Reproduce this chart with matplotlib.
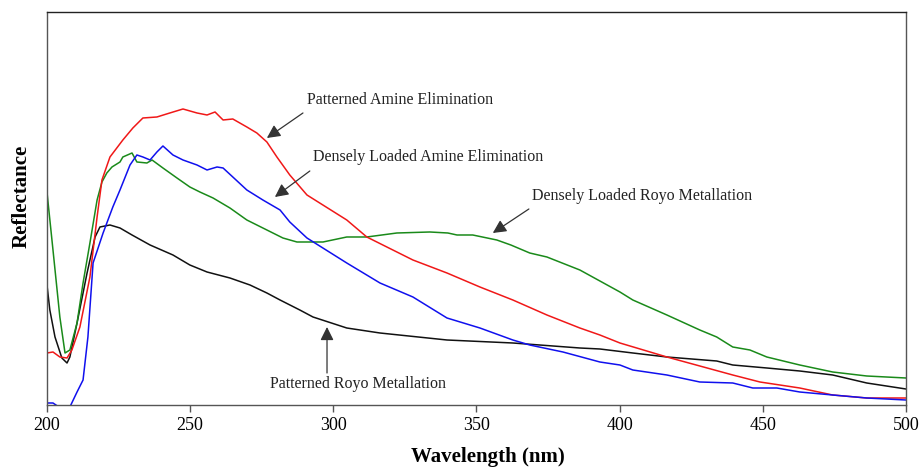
import matplotlib
matplotlib.use("Agg")
import matplotlib.pyplot as plt

plt.rcParams['font.family'] = ['Liberation Serif', 'DejaVu Serif']

# Reflectance spectra (arbitrary units)
red_x = [200, 202.1, 204.5, 207, 208.7, 211.5, 215, 217.5, 219.2, 222, 226.5, 230,
         233.5, 238.4, 242.9, 247.5, 252.4, 255.9, 258.7, 261.5, 264.9, 269.8,
         273.3, 276.8, 280.3, 284.8, 290.8, 304.7, 311.7, 327.8, 339.7, 351.2,
         362.7, 374.6, 386.1, 393.1, 400.1, 416.5, 439.5, 449, 462.9, 474.4,
         486.3, 500]
red_y = [52, 53, 48, 47, 55, 78, 128, 188, 225, 248, 265, 277,
         287, 288, 292, 296, 292, 290, 293, 285, 286, 278,
         272, 263, 248, 230, 210, 185, 168, 145, 132, 118,
         105, 90, 77, 70, 62, 48, 30, 23, 17, 10,
         7, 7]

blue_x = [200, 202.1, 205.2, 208, 210.5, 212.6, 214.3, 216.1, 219.6, 223, 225.5, 229,
          231.4, 233.5, 236, 238.4, 240.5, 244, 247.5, 252.4, 255.9, 259.4, 261.5,
          264.9, 269.8, 275.4, 281.4, 284.8, 290.8, 304.7, 316.3, 327.8, 339.7,
          351.2, 362.7, 368.6, 380.2, 393.1, 400.1, 404.6, 416.5, 428, 439.5,
          446.5, 454.9, 462.9, 474.4, 486.3, 500]
blue_y = [2, 2, -4, -2, 13, 25, 68, 142, 172, 198, 215, 240,
          250, 248, 245, 253, 259, 250, 245, 240, 235, 238, 237,
          228, 215, 205, 195, 183, 167, 142, 122, 108, 87,
          77, 65, 60, 53, 43, 40, 35, 30, 23, 22,
          17, 17, 13, 10, 7, 5]

green_x = [200, 202.1, 204.5, 206.3, 208, 210.5, 212.6, 215, 217.5, 219.2, 220.9,
           222.7, 225.5, 226.5, 229.7, 231.4, 234.9, 236.7, 240.5, 245.4, 249.9,
           253.4, 258, 263.9, 269.8, 276.8, 282.4, 287.3, 290.8, 296.4, 304.7,
           311.7, 322.2, 333.7, 340, 343.2, 348.7, 357.1, 362, 368.6, 374.6,
           386.1, 400.1, 404.6, 416.5, 428, 433.9, 439.5, 445.5, 451.4, 462.9,
           474.4, 486.3, 500]
green_y = [213, 155, 88, 52, 55, 82, 122, 162, 205, 223, 232,
           238, 243, 248, 252, 243, 242, 245, 237, 227, 218,
           213, 207, 197, 185, 175, 167, 163, 163, 163, 168,
           168, 172, 173, 172, 170, 170, 165, 160, 152, 148,
           135, 113, 105, 90, 75, 68, 58, 55, 48, 40,
           33, 29, 27]

black_x = [200, 201, 202.8, 205.2, 207, 208, 210.5, 214, 216.8, 218.5, 222, 225.5,
           229.7, 236, 244, 249.9, 255.9, 263.9, 270.9, 276.8, 281.4, 288.3,
           292.9, 304.7, 316.3, 339.7, 362.7, 386.1, 393.1, 404.6, 416.5, 433.9,
           439.5, 451.4, 462.9, 474.4, 486.3, 500]
black_y = [120, 95, 68, 47, 42, 48, 82, 132, 168, 178, 180, 177,
           170, 160, 150, 140, 133, 127, 120, 112, 105, 95,
           88, 77, 72, 65, 62, 57, 56, 52, 48, 44,
           40, 37, 34, 30, 22, 16]

x_ticks = [200, 250, 300, 350, 400, 450, 500]

fig = plt.figure(figsize=(9.21, 4.70), dpi=100)
ax = fig.add_axes([0.051, 0.1383, 0.9327, 0.8362])

ax.plot(black_x, black_y, color="#111111", lw=1.1)
ax.plot(green_x, green_y, color="#1a8a1a", lw=1.1)
ax.plot(red_x, red_y, color="#f01818", lw=1.1)
ax.plot(blue_x, blue_y, color="#1010ee", lw=1.1)

ax.set_xlim(200, 500)
ax.set_ylim(0, 393)
ax.set_xticks(x_ticks)
ax.set_yticks([])
ax.tick_params(axis="x", labelsize=13, length=5, width=1, color="#555555", direction="out")
for s in ax.spines.values():
    s.set_color("#555555")
    s.set_linewidth(1)
ax.spines["top"].set_color("#222222")

ax.set_xlabel("Wavelength (nm)", fontsize=15, fontweight="bold")
ax.xaxis.set_label_coords(0.513, -0.108)
ax.set_ylabel("Reflectance", fontsize=15, fontweight="bold")
ax.yaxis.set_label_coords(-0.018, 0.532)

# annotations: (label, text pos, arrow tail, arrow tip)
notes = [
    ("Patterned Amine Elimination", (290.8, 305), (289.4, 292), (276.8, 267)),
    ("Densely Loaded Amine Elimination", (292.9, 248), (291.8, 234), (279.6, 208)),
    ("Densely Loaded Royo Metallation", (369.3, 209), (368.3, 196), (355.7, 172)),
    ("Patterned Royo Metallation", (277.9, 21), (297.8, 32), (297.8, 78)),
]
for label, tpos, tail, tip in notes:
    ax.text(tpos[0], tpos[1], label, fontsize=11.5, ha="left", va="center", color="#222222")
    ax.annotate("", xy=tip, xytext=tail,
                arrowprops=dict(arrowstyle="-|>,head_length=0.8,head_width=0.4",
                                color="#333333", lw=0.9, shrinkA=0, shrinkB=0))

fig.savefig("out.png", dpi=100)
